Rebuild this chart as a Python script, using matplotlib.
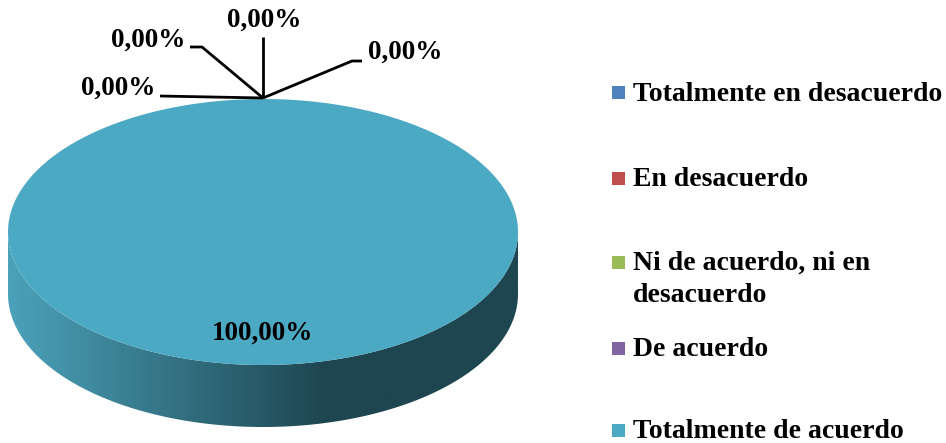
import numpy as np
import matplotlib
matplotlib.use("Agg")
import matplotlib.pyplot as plt
from matplotlib.patches import Polygon, Rectangle

# ---- data ----
categories = ["Totalmente en desacuerdo", "En desacuerdo",
              "Ni de acuerdo, ni en\ndesacuerdo", "De acuerdo",
              "Totalmente de acuerdo"]
values = [0.0, 0.0, 0.0, 0.0, 100.0]
value_labels = ["0,00%", "0,00%", "0,00%", "0,00%", "100,00%"]
colors = ["#4F81BD", "#C0504D", "#9BBB59", "#8064A2", "#4BA9C4"]

W, H = 946, 443
fig = plt.figure(figsize=(W / 100, H / 100), dpi=100)
ax = fig.add_axes([0, 0, 1, 1])
ax.set_xlim(0, W)
ax.set_ylim(H, 0)
ax.axis("off")

FONT = "Liberation Serif"

# ---- 3D pie geometry (pixel space) ----
cx, cy = 263, 232      # centre of top ellipse
a, b = 255, 133        # semi axes
depth = 62             # thickness

total = sum(values)
start = 90.0  # 12 o'clock, clockwise
angles = []
for v in values:
    sweep = 360.0 * v / total
    angles.append((start, start - sweep))
    start -= sweep

def ell(theta_deg, dy=0.0):
    t = np.radians(theta_deg)
    return cx + a * np.cos(t), cy - b * np.sin(t) + dy

# side (front half) with gradient
th = np.linspace(180, 360, 200)
top_edge = np.array([ell(t) for t in th])
bot_edge = np.array([ell(t, depth) for t in th[::-1]])
side = np.vstack([top_edge, bot_edge])
side_poly = Polygon(side, closed=True, facecolor="none", edgecolor="none")
ax.add_patch(side_poly)
light = np.array([0x4B, 0xA2, 0xBA]) / 255
dark = np.array([0x1E, 0x46, 0x51]) / 255
xs = np.linspace(0, 1, 400)
f = np.clip(xs / 0.62, 0, 1)
grad = light[None, :] * (1 - f[:, None]) + dark[None, :] * f[:, None]
img = np.tile(grad[None, :, :], (10, 1, 1))
im = ax.imshow(img, extent=[cx - a, cx + a, cy + depth + b + 2, cy - 5],
               aspect="auto", zorder=1, interpolation="bilinear")
im.set_clip_path(side_poly)
ax.set_xlim(0, W)
ax.set_ylim(H, 0)

# top faces of slices
for (t0, t1), col, v in zip(angles, colors, values):
    if v <= 0:
        continue
    ts = np.linspace(t0, t1, 361)
    pts = [ell(t) for t in ts]
    if abs(t0 - t1) < 359.999:
        pts = [(cx, cy)] + pts
    ax.add_patch(Polygon(pts, closed=True, facecolor=col, edgecolor="none", zorder=2))

# ---- data labels ----
lab_font = dict(family=FONT, fontweight="bold", fontsize=19.5, color="black")
zero_layout = [
    ((160, 96), (160, 96), (118, 88)),
    ((202, 47), (190, 47), (148, 40)),
    ((263, 37), (263, 37), (264, 20)),
    ((352, 61), (362, 61), (405, 52)),
]
zi = 0
for (t0, t1), v, lbl in zip(angles, values, value_labels):
    if v > 0:
        ax.text(263, 333, lbl, ha="center", va="center", zorder=5, **lab_font)
        continue
    px, py = ell(t0)
    elbow, end, tpos = zero_layout[zi]
    zi += 1
    ax.plot([px, elbow[0], end[0]], [py - 1, elbow[1], end[1]], color="black",
            lw=2, zorder=4, solid_capstyle="butt")
    ax.text(tpos[0], tpos[1], lbl, ha="center", va="center", zorder=5, **lab_font)

# ---- legend ----
leg_y = [92, 178, 262, 348, 430]
for cat, col, y in zip(categories, colors, leg_y):
    ax.add_patch(Rectangle((612, y - 6), 13, 13, facecolor=col, edgecolor="none"))
    if "\n" in cat:
        ax.text(633, y - 11, cat, ha="left", va="top", fontsize=20,
                fontweight="bold", family=FONT, linespacing=1.38)
    else:
        ax.text(633, y + 2, cat, ha="left", va="center", fontsize=20,
                fontweight="bold", family=FONT)

fig.savefig("out.png", dpi=100)
